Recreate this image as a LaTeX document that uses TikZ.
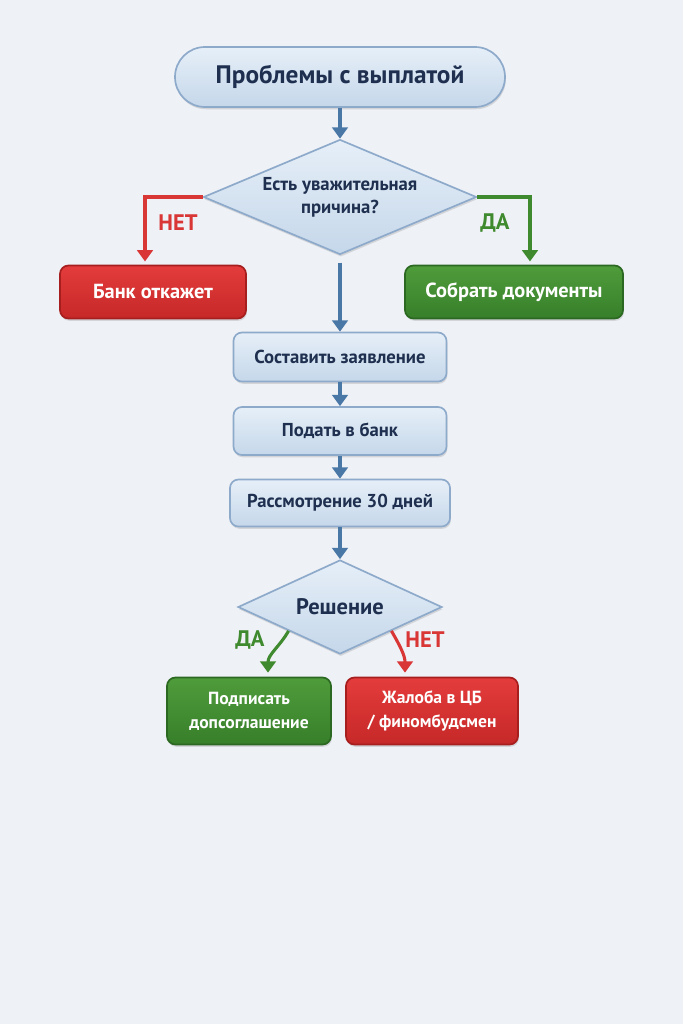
\documentclass[tikz,border=0pt]{standalone}
\usepackage{fontspec}
\setmainfont{PT Sans}
\usetikzlibrary{positioning, arrows.meta, shapes.geometric, shadows}

\definecolor{bgcol}{HTML}{EEF1F6}
\definecolor{boxtop}{HTML}{E6EFF8}
\definecolor{boxbot}{HTML}{C5D7EA}
\definecolor{boxedge}{HTML}{8EAACB}
\definecolor{navy}{HTML}{1E2F4F}
\definecolor{redtop}{HTML}{E43C3C}
\definecolor{redbot}{HTML}{C62828}
\definecolor{rededge}{HTML}{A61E1E}
\definecolor{greentop}{HTML}{4F9C3B}
\definecolor{greenbot}{HTML}{377F2A}
\definecolor{greenedge}{HTML}{2B6821}
\definecolor{flowblue}{HTML}{4A78A6}
\definecolor{flowred}{HTML}{D93636}
\definecolor{flowgreen}{HTML}{3F8A2E}

\tikzset{
  shade/.style={drop shadow={shadow xshift=0.6pt, shadow yshift=-1.6pt, opacity=0.25}},
  stepbox/.style={shade, draw=boxedge, line width=1.2pt, rounded corners=6pt,
    top color=boxtop, bottom color=boxbot, text=navy, align=center,
    font=\bfseries\fontsize{13.3}{16}\selectfont, inner sep=0pt},
  startbox/.style={stepbox, rounded corners=0.75cm, font=\bfseries\fontsize{18}{21}\selectfont},
  decision/.style={shade, diamond, draw=boxedge, line width=1.2pt, top color=boxtop,
    bottom color=boxbot, text=navy, align=center, inner sep=0pt,
    font=\bfseries\fontsize{13.3}{16.5}\selectfont},
  badbox/.style={stepbox, draw=rededge, top color=redtop, bottom color=redbot, text=white,
    font=\bfseries\fontsize{14.5}{17}\selectfont},
  goodbox/.style={stepbox, draw=greenedge, top color=greentop, bottom color=greenbot, text=white,
    font=\bfseries\fontsize{14.5}{17}\selectfont},
  flow/.style={draw=flowblue, line width=2.2pt, -{Triangle[length=8pt, width=11pt]}},
  noflow/.style={flow, draw=flowred},
  yesflow/.style={flow, draw=flowgreen},
  nolabel/.style={text=flowred, font=\bfseries\fontsize{16}{18}\selectfont},
  yeslabel/.style={text=flowgreen, font=\bfseries\fontsize{16}{18}\selectfont}
}

\begin{document}
\begin{tikzpicture}
\fill[bgcol] (0,0) rectangle (17.075,-25.6);

\node[startbox, minimum width=8.25cm, minimum height=1.5cm] (start) at (8.5,-1.925) {Проблемы с выплатой};
\node[decision, aspect=2.37, minimum width=6.825cm, minimum height=2.875cm] (reason) at (8.5,-4.925) {Есть уважительная\\причина?};
\node[badbox, minimum width=4.65cm, minimum height=1.325cm] (refuse) at (3.825,-7.3) {Банк откажет};
\node[goodbox, minimum width=5.45cm, minimum height=1.325cm] (docs) at (12.85,-7.3) {Собрать документы};
\node[stepbox, minimum width=5.325cm, minimum height=1.225cm] (write) at (8.5,-8.925) {Составить заявление};
\node[stepbox, minimum width=5.325cm, minimum height=1.2cm] (submit) at (8.5,-10.775) {Подать в банк};
\node[stepbox, minimum width=5.5cm, minimum height=1.175cm] (review) at (8.5,-12.575) {Рассмотрение 30 дней};
\node[decision, aspect=2.17, minimum width=5.1cm, minimum height=2.35cm, font=\bfseries\fontsize{16}{19}\selectfont] (verdict) at (8.5,-15.175) {Решение};
\node[goodbox, minimum width=4.1cm, minimum height=1.675cm, font=\bfseries\fontsize{12.5}{17}\selectfont] (sign) at (6.225,-17.775) {Подписать\\допсоглашение};
\node[badbox, minimum width=4.3cm, minimum height=1.675cm, font=\bfseries\fontsize{12.5}{17}\selectfont] (complain) at (10.8,-17.775) {Жалоба в ЦБ\\/ финомбудсмен};

% main flow
\draw[flow] (start) -- (reason);
\draw[flow] ([yshift=-0.18cm]reason.south) -- (write);
\draw[flow] (write) -- (submit);
\draw[flow] (submit) -- (review);
\draw[flow] (review) -- (verdict);

% branches
\draw[noflow] (reason.west) -| ([xshift=-0.2cm, yshift=0.08cm]refuse.north);
\draw[yesflow] (reason.east) -| ([xshift=0.4cm, yshift=0.08cm]docs.north);
\node[nolabel] (no1) at (4.45,-5.575) {НЕТ};
\node[yeslabel] (yes1) at (12.375,-5.575) {ДА};

\draw[yesflow] (verdict.south west) to[out=240, in=90] ([xshift=0.475cm, yshift=0.1cm]sign.north);
\draw[noflow] (verdict.south east) to[out=-60, in=90] ([xshift=-0.675cm, yshift=0.1cm]complain.north);
\node[yeslabel] (yes2) at (6.25,-16.0) {ДА};
\node[nolabel] (no2) at (10.625,-16.0) {НЕТ};
\end{tikzpicture}
\end{document}
